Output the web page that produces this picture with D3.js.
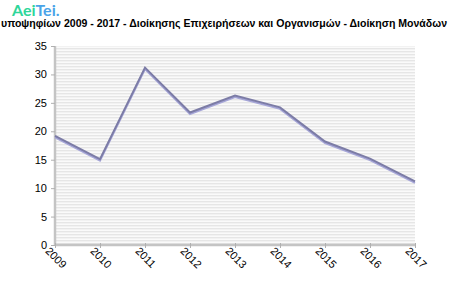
<head>
    <meta charset="utf-8">
    <script src="https://d3js.org/d3.v7.min.js"></script>
    <style>
        body { margin: 0; background: #fff; }
        svg { display: block; font-family: "Liberation Sans", Arial, sans-serif; }
    </style>
</head>
<body>
<svg width="450" height="300"></svg>
<script>
    var years = ["2009", "2010", "2011", "2012", "2013", "2014", "2015", "2016", "2017"];
    var values = [19.2, 15.1, 31.2, 23.3, 26.3, 24.2, 18.2, 15.2, 11.2];
    var yTicks = [0, 5, 10, 15, 20, 25, 30, 35];
    var title = "υποψηφίων 2009 - 2017 - Διοίκησης Επιχειρήσεων και Οργανισμών - Διοίκηση Μονάδων";

    var svg = d3.select("svg"),
        margin = {top: 46, right: 35, bottom: 55, left: 55},
        width = +svg.attr("width"),
        height = +svg.attr("height");

    var x = d3.scalePoint().domain(years).range([margin.left, width - margin.right]);
    var y = d3.scaleLinear().domain([0, 35]).range([height - margin.bottom, margin.top]);

    // striped background
    var defs = svg.append("defs");
    var pat = defs.append("pattern")
        .attr("id", "stripes")
        .attr("patternUnits", "userSpaceOnUse")
        .attr("width", 4).attr("height", 3);
    pat.append("rect").attr("width", 4).attr("height", 3).attr("fill", "#fafafa");
    pat.append("rect").attr("width", 4).attr("height", 1.4).attr("fill", "#e6e6e6");

    svg.append("rect")
        .attr("x", margin.left)
        .attr("y", y(35))
        .attr("width", x("2017") - margin.left)
        .attr("height", y(0) - y(35))
        .attr("fill", "url(#stripes)");

    // logo
    var logo = svg.append("text")
        .attr("x", 12).attr("y", 16)
        .style("font-size", "16px")
        .style("font-weight", "bold")
        .style("font-family", "Lato, 'Noto Sans', sans-serif");
    logo.append("tspan").attr("fill", "#2ed69a").text("Aei");
    logo.append("tspan").attr("fill", "#4aa3e8").text("Tei");
    logo.append("tspan").attr("fill", "#4aa3e8").text(".");

    svg.append("text")
        .attr("x", 1).attr("y", 27)
        .attr("textLength", 446)
        .attr("lengthAdjust", "spacingAndGlyphs")
        .style("font-size", "10px")
        .style("font-weight", "bold")
        .attr("fill", "#000")
        .text(title);

    // axes
    var yAxis = svg.append("g")
        .attr("transform", "translate(" + margin.left + ",0)")
        .call(d3.axisLeft(y).tickValues(yTicks).tickSize(4).tickPadding(4));
    var xAxis = svg.append("g")
        .attr("transform", "translate(0," + y(0) + ")")
        .call(d3.axisBottom(x).tickSize(4).tickPadding(2));

    [yAxis, xAxis].forEach(function(g) {
        g.select(".domain").attr("stroke", "#c4c4c4").attr("stroke-width", 2.5);
        g.selectAll(".tick line").attr("stroke", "#b0b0b0");
        g.selectAll(".tick text").attr("fill", "#000").style("font-size", "11px")
            .style("font-family", "'Liberation Sans', Arial, sans-serif");
    });
    yAxis.select(".domain").attr("d", "M0," + y(0) + "V" + y(35));
    xAxis.select(".domain").attr("d", "M" + margin.left + ",0H" + x("2017"));
    xAxis.selectAll(".tick line").attr("y1", -2).attr("y2", 3);
    xAxis.selectAll(".tick text")
        .attr("text-anchor", "start")
        .attr("transform", "translate(-4,0) rotate(45)")
        .attr("dy", "0.6em")
        .attr("y", 3);

    // line with shadow
    var line = d3.line().x((d, i) => x(years[i])).y(d => y(d));
    svg.append("path")
        .datum(values)
        .attr("d", line)
        .attr("transform", "translate(0,1.5)")
        .attr("fill", "none")
        .attr("stroke", "#a6a6d8")
        .attr("stroke-width", 2);
    svg.append("path")
        .datum(values)
        .attr("d", line)
        .attr("fill", "none")
        .attr("stroke", "#7c7ca6")
        .attr("stroke-width", 2);
</script>
</body>
